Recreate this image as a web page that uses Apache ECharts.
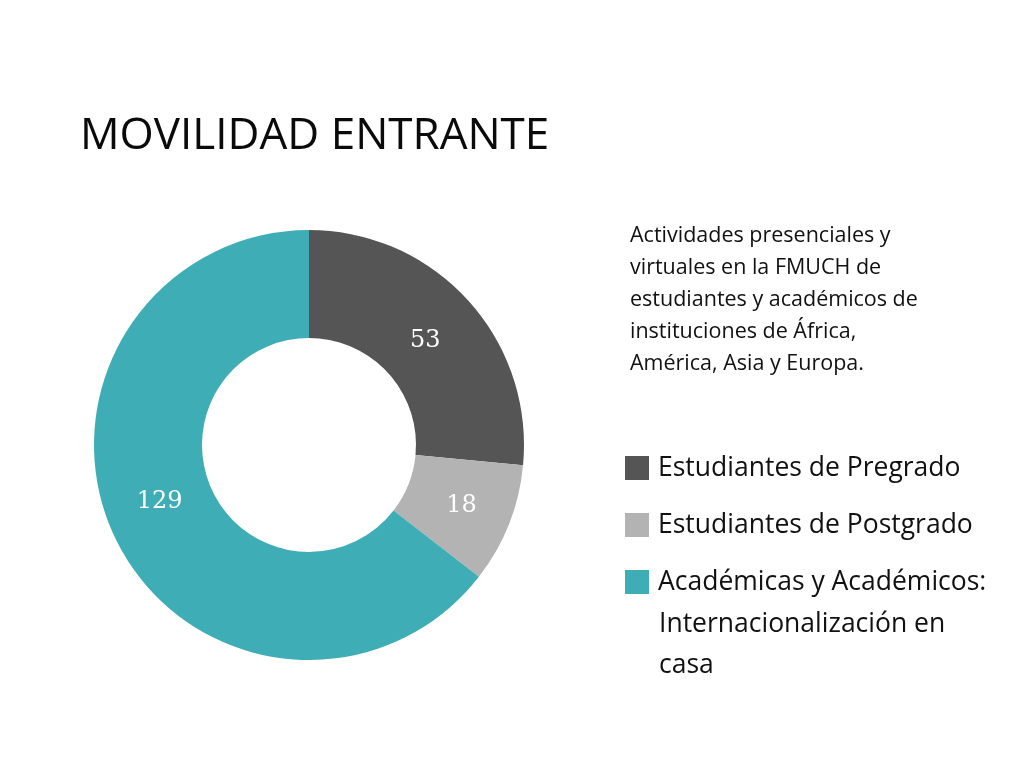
<!DOCTYPE html>
<html>
<head>
<meta charset="utf-8">
<script src="https://cdn.jsdelivr.net/npm/echarts@6/dist/echarts.min.js"></script>
<style>html,body{margin:0;padding:0;background:#fff;}#c{width:1024px;height:768px;}</style>
</head>
<body>
<div id="c"></div>
<script>
const categories = ['Estudiantes de Pregrado', 'Estudiantes de Postgrado', 'Académicas y Académicos: Internacionalización en casa'];
const values = [53, 18, 129];
const colors = ['#555555', '#b3b3b3', '#3eadb5'];
const titleText = 'MOVILIDAD ENTRANTE';
const descText = 'Actividades presenciales y\nvirtuales en la FMUCH de\nestudiantes y académicos de\ninstituciones de África,\nAmérica, Asia y Europa.';
const labelOffsets = [[-5, 6], [0, 0], [-2, -15]];

const chart = echarts.init(document.getElementById('c'));
const sans = 'Open Sans';
chart.setOption({
  backgroundColor: '#ffffff',
  animation: false,
  title: {
    text: titleText,
    left: 75, top: 109,
    textStyle: { fontFamily: sans, fontSize: 44, fontWeight: 'normal', color: '#0a0a0a' }
  },
  legend: {
    orient: 'vertical',
    left: 625, top: 453,
    padding: 0,
    itemWidth: 24, itemHeight: 24,
    itemGap: 27,
    icon: 'rect',
    itemStyle: { borderWidth: 0 },
    formatter: function (name) { return name === categories[2] ? 'Académicas y Académicos:' : name; },
    textStyle: { fontFamily: sans, fontSize: 26.5, color: '#111', lineHeight: 30, padding: [0, 0, 0, 4] },
    data: categories
  },
  graphic: [
    { type: 'text', left: 630, top: 220,
      style: { text: descText, font: '21.5px "Open Sans"', fill: '#111', lineHeight: 32 } },
    { type: 'text', left: 659, top: 604,
      style: { text: 'Internacionalización en\ncasa', font: '26.5px "Open Sans"', fill: '#111', lineHeight: 41 } }
  ],
  series: [{
    type: 'pie',
    center: [309, 445],
    radius: [107, 215],
    startAngle: 90,
    clockwise: true,
    avoidLabelOverlap: false,
    label: {
      show: true, position: 'inside',
      color: '#fff', fontFamily: 'DejaVu Serif', fontSize: 24,
      formatter: '{c}'
    },
    labelLine: { show: false },
    emphasis: { disabled: true },
    data: categories.map((n, i) => ({ name: n, value: values[i], itemStyle: { color: colors[i] }, label: { offset: labelOffsets[i] } }))
  }]
});
</script>
</body>
</html>
